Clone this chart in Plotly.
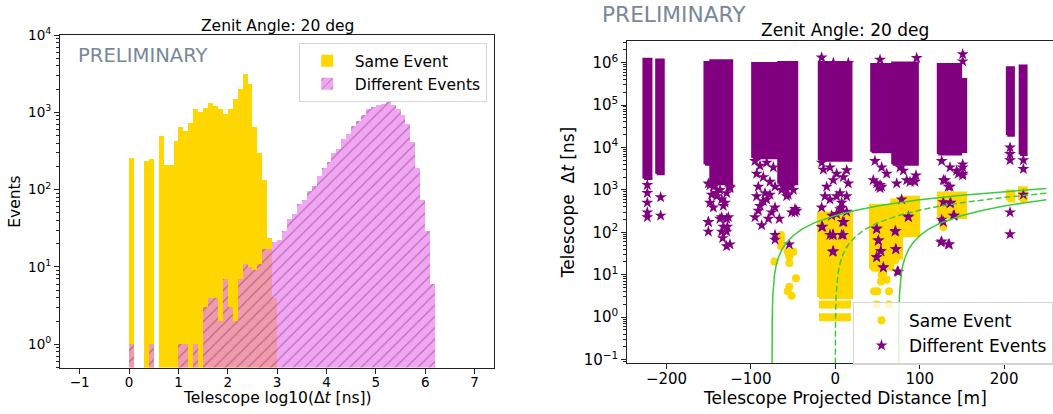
import plotly.graph_objects as go

# ---------------- Left panel: histogram of log10(dt) ----------------
bin_width = 0.1
same_bin_left = [0.0, 0.3, 0.4, 0.6, 0.7, 0.8, 0.9, 1.0, 1.1, 1.2, 1.3, 1.4, 1.5, 1.6,
                 1.7, 1.8, 1.9, 2.0, 2.1, 2.2, 2.3, 2.4, 2.5, 2.6, 2.7, 2.8, 2.9]
same_counts = [257, 233, 251, 490, 211, 208, 426, 655, 580, 735, 1095, 1000, 1130, 1333,
               1190, 1110, 944, 1100, 1470, 2000, 3170, 2300, 640, 295, 134, 24, 4]

diff_bin_left = [0.0, 0.4, 1.0, 1.1, 1.3, 1.5, 1.6, 1.7, 1.8, 1.9, 2.0, 2.1, 2.2, 2.3, 2.4,
                 2.5, 2.6, 2.7, 2.8, 2.9, 3.0, 3.1, 3.2, 3.3, 3.4, 3.5, 3.6, 3.7, 3.8, 3.9,
                 4.0, 4.1, 4.2, 4.3, 4.4, 4.5, 4.6, 4.7, 4.8, 4.9, 5.0, 5.1, 5.2, 5.3, 5.4,
                 5.5, 5.6, 5.7, 5.8, 5.9, 6.0, 6.1]
diff_counts = [1, 1, 1, 1, 1, 3, 4, 4, 2, 7, 3, 2, 7, 11, 10,
               9, 11, 17, 17, 21, 22, 29, 42, 49, 65, 73, 95, 112, 150, 188,
               226, 298, 336, 458, 520, 660, 780, 913, 1100, 1170, 1260, 1290, 1350, 1260, 1100,
               930, 710, 410, 190, 73, 29, 6]

hist_xticks = [-1, 0, 1, 2, 3, 4, 5, 6, 7]
hist_yticks = [1, 10, 100, 1000, 10000]
hist_yticktext = ["10<sup>0</sup>", "10<sup>1</sup>", "10<sup>2</sup>", "10<sup>3</sup>", "10<sup>4</sup>"]

# ---------------- Right panel: dt vs projected distance ----------------
# dense bands of "Different Events" (x range in m, dt range in ns)
diff_band_xlo = [-226.7, -211.6, -154.4, -147.5, -97.9, -67.0, -19.0, 43.1, 68.0, 122.0, 148.5, 203.8, 219.0]
diff_band_xhi = [-218.4, -203.8, -147.5, -122.7, -68.7, -45.7, 18.6, 66.8, 97.2, 148.5, 154.5, 211.0, 226.0]
diff_band_ylo = [1850, 2400, 4000, 1400, 5700, 1400, 5000, 7900, 4000, 7000, 8000, 19500, 6800]
diff_band_yhi = [1.2e6, 1.15e6, 1.0e6, 1.1e6, 9.5e5, 1.0e6, 1.0e6, 9.0e5, 9.8e5, 9.0e5, 4.0e5, 7.6e5, 8.3e5]

# isolated "Different Events" points
diff_pts_x = [-222.7, -222.7, -222.7, -222.7, -222.7, -206.9, -206.9,
              -150.4, -150.4, -146.5, -144.5, -136.6, -134.6, -133.4, -128.7, -127.9, -126.7,
              -130.7, -134.6, -140.6, -142.5, -124.8, -148.5,
              -150.4, -144.5, -136.6, -128.7, -140.6, -132.7, -124.8, -148.5, -134.6, -128.7,
              -150.4, -132.7, -128.7, -124.8,
              -95.1, -91.2, -89.2, -87.2, -85.3, -81.3, -79.3, -77.4, -75.4, -71.4, -71.4, -71.4,
              -66.3, -93.2,
              -95.1, -89.2, -81.3, -73.4, -93.2, -85.3, -77.4, -71.4, -91.2, -83.3,
              -55.7, -53.7, -47.7, -49.7, -57.6, -45.8, -54.5,
              -63.5, -57.6, -51.7, -47.7, -61.6,
              -16.2, -16.2, -15.0, -12.2, -6.3, -2.3, -2.3, 1.6, 7.5, 8.7, 9.5, -4.3, 5.6,
              13.5, 15.4, -2.3,
              -14.2, -6.3, 1.6, 9.5, 15.4, -10.2, 5.6, -2.4, 13.5, -16.1,
              -16.2, -6.3, -3.1, 7.5, -3.1, 10.3, 1.6, 7.5, 13.5,
              49.0, 53.0, 49.0, 51.0, 53.8, 49.0, 56.9, 54.9, 70.7, 71.9, 73.5, 78.6, 86.5,
              84.6, 92.5, 95.6, 96.4, 53.0,
              47.0, 54.9, 60.9, 51.0, 53.0, 45.0, 72.7, 88.5, 94.4, 80.6, 76.7,
              49.0, 51.0, 54.1, 49.0, 56.9, 71.5, 71.5, 74.7, 86.5,
              126.0, 128.0, 130.0, 135.9, 133.9, 136.7, 145.8, 139.8, 150.9, 150.9, 150.9, 150.9,
              126.0, 135.9, 128.0, 133.9, 143.8, 150.9, 150.9,
              128.0, 135.9, 135.1, 125.2, 141.0, 126.0,
              207.0, 207.0, 207.0, 207.0, 207.0,
              222.8, 222.8, 222.8]
diff_pts_y = [1300, 842, 499, 295, 227, 671, 248,
              175, 104, 771, 384, 208, 104, 73, 47, 135, 227,
              499, 594, 842, 1300, 1190, 1300,
              1420, 1190, 1000, 840, 710, 420, 1100, 500, 227, 208,
              175, 135, 104, 52,
              227, 322, 419, 147, 544, 594, 208, 771, 295, 384, 87, 67,
              208, 707,
              4800, 3700, 4400, 3400, 2400, 2000, 1550, 1190, 1190, 840,
              771, 1190, 295, 1000, 1000, 322, 52,
              1000, 710, 295, 355, 1190,
              1.32e6, 384, 135, 707, 594, 87, 36, 707, 499, 175, 87, 248, 352,
              707, 9.85e5, 9.85e5,
              3000, 3400, 2400, 2000, 1420, 1190, 840, 1700, 2900, 4400,
              134, 87, 87, 87, 34.6, 175, 270, 380, 306,
              1420, 1300, 124, 64, 36, 26, 15, 1190, 104, 40, 12, 594, 227,
              1690, 1690, 2200, 1.28e6, 1.17e6,
              4800, 3400, 2400, 1190, 1100, 1700, 1420, 1550, 1550, 2850, 3400,
              119, 64, 36, 26, 14.7, 108, 40, 11.7, 235,
              61, 175, 1690, 1190, 52, 499, 2400, 248, 3400, 2200, 1.07e6, 1.58e6,
              4800, 3400, 1700, 1190, 2850, 2400, 4000,
              516, 482, 52, 58, 248, 198,
              295, 90, 10000, 7000, 5000,
              3110, 771, 5000]

# dense bands of "Same Event"
same_band_xlo = [-19.3, 42.3, 67.5, 78.0, 122.8, 204.3, 218.8]
same_band_xhi = [18.6, 67.5, 78.0, 98.3, 153.7, 211.0, 225.6]
same_band_ylo = [3.0, 14.0, 25.0, 85.0, 230.0, 560.0, 560.0]
same_band_yhi = [280.0, 420.0, 560.0, 650.0, 820.0, 920.0, 1100.0]

# discrete rows of "Same Event" at 1 ns and 2 ns
same_row_y = [1.0, 2.0]
same_row_xlo = [-19.3, -19.3]
same_row_xhi = [18.6, 18.6]

# isolated "Same Event" points
same_pts_x = [-72.2, -64.3, -64.3, -64.3, -56.4, -54.5, -54.5, -49.7, -46.6, -54.5, -56.4, -51.7,
              45.9, 49.8, 54.9, 54.1, 45.9, 49.8, 63.6, 60.9, 70.7, 70.7, 63.6, 56.9,
              128.0, 49.0, 63.6]
same_pts_y = [20.5, 87, 67, 47, 34.6, 26.6, 18.8, 34.6, 8.3, 5.2, 4.1, 3.2,
              14.7, 14.7, 9.8, 6.9, 4.1, 4.1, 4.1, 7.6, 21.6, 33.4, 16.6, 10.7,
              134, 2.0, 2.0]

# light-travel-time curves
curve_up_x = [-74.99, -74.97, -74.9, -74.7, -74.0, -73.0, -72.0, -70.0, -67.0, -63.0, -58.0,
              -50.0, -40.0, -25.0, -10.0, 0.0, 25.0, 50.0, 75.0, 100.0, 150.0, 200.0, 250.0]
curve_up_y = [0.03, 0.1, 0.33, 1.0, 3.3, 6.7, 10.0, 16.7, 26.7, 40.0, 56.7,
              83.0, 117.0, 167.0, 217.0, 250.0, 333.0, 417.0, 500.0, 583.0, 750.0, 917.0, 1083.0]
curve_mid_x = [0.01, 0.03, 0.1, 0.3, 1.0, 2.0, 3.0, 5.0, 8.0, 12.0, 17.0, 25.0, 35.0, 50.0,
               65.0, 75.0, 100.0, 125.0, 150.0, 175.0, 200.0, 250.0]
curve_mid_y = [0.03, 0.1, 0.33, 1.0, 3.3, 6.7, 10.0, 16.7, 26.7, 40.0, 56.7, 83.0, 117.0, 167.0,
               217.0, 250.0, 333.0, 417.0, 500.0, 583.0, 667.0, 833.0]
curve_low_x = [75.01, 75.03, 75.1, 75.3, 76.0, 77.0, 78.0, 80.0, 83.0, 87.0, 92.0, 100.0, 110.0,
               125.0, 140.0, 150.0, 175.0, 200.0, 225.0, 250.0]
curve_low_y = [0.03, 0.1, 0.33, 1.0, 3.3, 6.7, 10.0, 16.7, 26.7, 40.0, 56.7, 83.0, 117.0,
               167.0, 217.0, 250.0, 333.0, 417.0, 500.0, 583.0]

scat_xticks = [-200, -100, 0, 100, 200]
scat_yticks = [0.1, 1, 10, 100, 1000, 1e4, 1e5, 1e6]
scat_yticktext = ["10<sup>\u22121</sup>", "10<sup>0</sup>", "10<sup>1</sup>", "10<sup>2</sup>",
                  "10<sup>3</sup>", "10<sup>4</sup>", "10<sup>5</sup>", "10<sup>6</sup>"]

# ---------------- styling ----------------
W, H = 1053, 414
FONT = "DejaVu Sans"
GOLD = "#FFD700"
PURPLE = "#800080"
GREEN = "#3CCB3C"
AX = "#222222"
FS_L = 15.5    # left panel label size
FS_R = 17      # right panel label size
TK_L = 13.5    # left tick size
TK_R = 15      # right tick size


def rect_path(xlo, xhi, ylo, yhi):
    xs, ys = [], []
    for a, b, c, d in zip(xlo, xhi, ylo, yhi):
        xs += [a, b, b, a, a, None]
        ys += [c, c, d, d, c, None]
    return xs, ys


fig = go.Figure()

# left histogram
fig.add_trace(go.Bar(
    x=[b + bin_width / 2 for b in same_bin_left], y=same_counts, width=bin_width,
    name="Same Event", marker=dict(color=GOLD, line=dict(width=0)),
    xaxis="x", yaxis="y", legend="legend"))
fig.add_trace(go.Bar(
    x=[b + bin_width / 2 for b in diff_bin_left], y=diff_counts, width=bin_width,
    name="Different Events",
    marker=dict(color="rgba(238,130,238,0.72)", line=dict(width=0),
                pattern=dict(shape="/", size=8, solidity=0.14,
                             fgcolor="rgba(60,25,60,0.85)", fillmode="overlay")),
    xaxis="x", yaxis="y", legend="legend"))

# right panel: same-event bands
sx, sy = rect_path(same_band_xlo, same_band_xhi, same_band_ylo, same_band_yhi)
fig.add_trace(go.Scatter(x=sx, y=sy, mode="lines", fill="toself", fillcolor=GOLD,
                         line=dict(color=GOLD, width=4), hoverinfo="skip",
                         showlegend=False, xaxis="x2", yaxis="y2"))
for ry, rxl, rxh in zip(same_row_y, same_row_xlo, same_row_xhi):
    fig.add_trace(go.Scatter(x=[rxl, rxh], y=[ry, ry], mode="lines",
                             line=dict(color=GOLD, width=8), hoverinfo="skip",
                             showlegend=False, xaxis="x2", yaxis="y2"))
fig.add_trace(go.Scatter(x=same_pts_x, y=same_pts_y, mode="markers", name="Same Event",
                         marker=dict(symbol="circle", size=8, color=GOLD),
                         xaxis="x2", yaxis="y2", legend="legend2"))

# right panel: different-event bands
dx, dy = rect_path(diff_band_xlo, diff_band_xhi, diff_band_ylo, diff_band_yhi)
fig.add_trace(go.Scatter(x=dx, y=dy, mode="lines", fill="toself", fillcolor=PURPLE,
                         line=dict(color=PURPLE, width=3), hoverinfo="skip",
                         showlegend=False, xaxis="x2", yaxis="y2"))
fig.add_trace(go.Scatter(x=diff_pts_x, y=diff_pts_y, mode="markers", name="Different Events",
                         marker=dict(symbol="star", size=9, color=PURPLE),
                         xaxis="x2", yaxis="y2", legend="legend2"))

# curves
fig.add_trace(go.Scatter(x=curve_up_x, y=curve_up_y, mode="lines", line=dict(color=GREEN, width=1.5),
                         showlegend=False, xaxis="x2", yaxis="y2"))
fig.add_trace(go.Scatter(x=curve_mid_x, y=curve_mid_y, mode="lines",
                         line=dict(color=GREEN, width=1.5, dash="6px,3px"),
                         showlegend=False, xaxis="x2", yaxis="y2"))
fig.add_trace(go.Scatter(x=curve_low_x, y=curve_low_y, mode="lines", line=dict(color=GREEN, width=1.5),
                         showlegend=False, xaxis="x2", yaxis="y2"))

common = dict(showgrid=False, zeroline=False, showline=True, linecolor=AX, linewidth=1,
              ticks="outside", tickcolor=AX, tickwidth=1)

fig.update_layout(
    width=W, height=H, margin=dict(l=0, r=0, t=0, b=0),
    paper_bgcolor="white", plot_bgcolor="white", barmode="overlay", bargap=0,
    font=dict(family=FONT, color="black"),
    xaxis=dict(domain=[60 / W, 494.3 / W], range=[-1.4, 7.4], tickvals=hist_xticks,
               mirror=True, ticklen=5, tickfont=dict(size=TK_L), anchor="y", **common),
    yaxis=dict(domain=[1 - 371 / H, 1 - 26 / H], type="log", range=[-0.301, 4],
               tickvals=hist_yticks, ticktext=hist_yticktext, mirror=True, ticklen=5,
               tickfont=dict(size=TK_L), anchor="x",
               minor=dict(ticks="outside", ticklen=3, tickcolor=AX, dtick="D1"), **common),
    xaxis2=dict(domain=[627.3 / W, 1.0], range=[-246.4, 257.9], tickvals=scat_xticks,
                mirror=True, ticklen=5, tickfont=dict(size=TK_R), anchor="y2", **common),
    yaxis2=dict(domain=[1 - 366.7 / H, 1 - 31.7 / H], type="log", range=[-1.09, 6.52],
                tickvals=scat_yticks, ticktext=scat_yticktext, mirror=False, ticklen=5,
                tickfont=dict(size=TK_R), anchor="x2",
                minor=dict(ticks="outside", ticklen=3, tickcolor=AX, dtick="D1"), **common),
    legend=dict(x=486.7 / W, xanchor="right", y=1 - 34.3 / H, yanchor="top",
                bgcolor="rgba(255,255,255,0.8)", bordercolor="#d5d5d5", borderwidth=1,
                font=dict(size=FS_L, family=FONT), itemwidth=45, tracegroupgap=0),
    legend2=dict(x=1.0, xanchor="right", y=1 - 302.7 / H, yanchor="top",
                 bgcolor="rgba(255,255,255,0.8)", bordercolor="#d5d5d5", borderwidth=1,
                 font=dict(size=FS_R, family=FONT), itemwidth=45, tracegroupgap=0),
)

# pull the x tick labels a little closer to the axis (as in the reference)
try:
    fig.update_xaxes(ticklabelstandoff=-3)
except ValueError:
    fig.update_xaxes(ticklen=3)

ann = [
    dict(text="Zenit Angle: 20 deg", x=277 / W, y=1 - 16.5 / H, size=FS_L),
    dict(text="Telescope log10(\u0394<i>t</i> [ns])", x=277 / W, y=1 - 403 / H, size=FS_L),
    dict(text="Events", x=15 / W, y=1 - 199 / H, size=FS_L, angle=-90),
    dict(text="Zenit Angle: 20 deg", x=845 / W, y=1 - 21 / H, size=FS_R),
    dict(text="Telescope Projected Distance [m]", x=845 / W, y=1 - 402.5 / H, size=FS_R),
    dict(text="Telescope  \u0394<i>t</i> [ns]", x=567.5 / W, y=1 - 200 / H, size=FS_R, angle=-90),
]
for a in ann:
    fig.add_annotation(text=a["text"], xref="paper", yref="paper", x=a["x"], y=a["y"],
                       xanchor="center", yanchor="middle", showarrow=False,
                       textangle=a.get("angle", 0), font=dict(size=a["size"], family=FONT, color="black"))

fig.add_annotation(text="PRELIMINARY", xref="paper", yref="paper", x=76 / W, y=1 - 47 / H,
                   xanchor="left", yanchor="middle", showarrow=False,
                   font=dict(size=19.6, family=FONT, color="#778899"))
fig.add_annotation(text="PRELIMINARY", xref="paper", yref="paper", x=600 / W, y=1 - 5 / H,
                   xanchor="left", yanchor="middle", showarrow=False,
                   font=dict(size=21.7, family=FONT, color="#778899"))

fig.write_html("out.html")
